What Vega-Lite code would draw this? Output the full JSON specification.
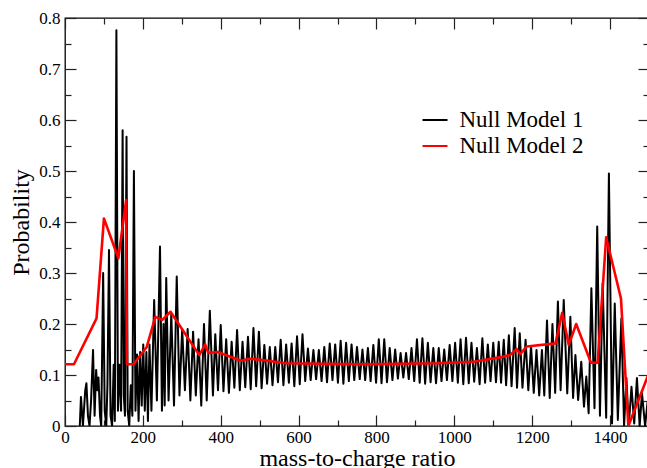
{
"$schema":"https://vega.github.io/schema/vega-lite/v6.json",
"width":584,"height":408,
"autosize":{"type":"none"},
"padding":{"left":65,"top":18,"right":0,"bottom":42},
"background":"white",
"config":{"view":{"stroke":"black","strokeWidth":1.3},"font":"Liberation Serif"},
"datasets":{
"nm1":[{"mz":38,"prob":0},{"mz":41,"prob":0.057},{"mz":46,"prob":0},{"mz":52,"prob":0.07},{"mz":55,"prob":0.084},{"mz":59,"prob":0.02},{"mz":63,"prob":0},{"mz":67,"prob":0.05},{"mz":72,"prob":0.149},{"mz":76,"prob":0.02},{"mz":80,"prob":0.11},{"mz":83,"prob":0.07},{"mz":86,"prob":0.095},{"mz":90,"prob":0.02},{"mz":93,"prob":0},{"mz":98,"prob":0.30},{"mz":102,"prob":0.03},{"mz":106,"prob":0},{"mz":109,"prob":0.08},{"mz":113,"prob":0.345},{"mz":117,"prob":0.02},{"mz":121,"prob":0},{"mz":125,"prob":0.12},{"mz":128,"prob":0.01},{"mz":132,"prob":0.776},{"mz":136,"prob":0.03},{"mz":140,"prob":0.12},{"mz":144,"prob":0.03},{"mz":148,"prob":0.58},{"mz":151,"prob":0.06},{"mz":154,"prob":0.02},{"mz":158,"prob":0.567},{"mz":161,"prob":0.03},{"mz":165,"prob":0},{"mz":169,"prob":0.08},{"mz":173,"prob":0.02},{"mz":177,"prob":0.50},{"mz":181,"prob":0.03},{"mz":185,"prob":0.14},{"mz":189,"prob":0.01},{"mz":193,"prob":0.145},{"mz":197,"prob":0.04},{"mz":201,"prob":0.16},{"mz":205,"prob":0.03},{"mz":209,"prob":0.145},{"mz":213,"prob":0.01},{"mz":217,"prob":0.16},{"mz":222,"prob":0.03},{"mz":229,"prob":0.247},{"mz":236,"prob":0.05},{"mz":244,"prob":0.352},{"mz":249,"prob":0.03},{"mz":253,"prob":0.2},{"mz":256,"prob":0.04},{"mz":260,"prob":0.29},{"mz":266,"prob":0.05},{"mz":273,"prob":0.22},{"mz":280,"prob":0.04},{"mz":287,"prob":0.293},{"mz":294,"prob":0.06},{"mz":301,"prob":0.19},{"mz":308,"prob":0.07},{"mz":315,"prob":0.19},{"mz":322,"prob":0.05},{"mz":329,"prob":0.185},{"mz":336,"prob":0.06},{"mz":343,"prob":0.17},{"mz":350,"prob":0.04},{"mz":357,"prob":0.2},{"mz":364,"prob":0.05},{"mz":372,"prob":0.226},{"mz":380,"prob":0.06},{"mz":386,"prob":0.18},{"mz":393,"prob":0.07},
{"mz":400,"prob":0.198},{"mz":407,"prob":0.068},{"mz":414,"prob":0.17},{"mz":421,"prob":0.065},{"mz":428,"prob":0.165},{"mz":435,"prob":0.075},{"mz":442,"prob":0.188},{"mz":449,"prob":0.07},{"mz":456,"prob":0.165},{"mz":463,"prob":0.076},{"mz":470,"prob":0.175},{"mz":477,"prob":0.072},{"mz":484,"prob":0.192},{"mz":491,"prob":0.078},{"mz":498,"prob":0.185},{"mz":505,"prob":0.074},{"mz":512,"prob":0.159},{"mz":519,"prob":0.083},{"mz":526,"prob":0.155},{"mz":533,"prob":0.08},{"mz":540,"prob":0.155},{"mz":547,"prob":0.086},{"mz":554,"prob":0.169},{"mz":561,"prob":0.08},{"mz":568,"prob":0.16},{"mz":575,"prob":0.085},{"mz":582,"prob":0.162},{"mz":589,"prob":0.078},{"mz":596,"prob":0.176},{"mz":603,"prob":0.082},{"mz":610,"prob":0.18},{"mz":617,"prob":0.088},{"mz":624,"prob":0.152},{"mz":631,"prob":0.09},{"mz":638,"prob":0.149},{"mz":645,"prob":0.092},{"mz":652,"prob":0.149},{"mz":659,"prob":0.088},{"mz":666,"prob":0.155},{"mz":673,"prob":0.086},{"mz":680,"prob":0.162},{"mz":687,"prob":0.09},{"mz":694,"prob":0.16},{"mz":701,"prob":0.085},{"mz":708,"prob":0.167},{"mz":715,"prob":0.083},{"mz":722,"prob":0.163},{"mz":729,"prob":0.088},{"mz":736,"prob":0.16},{"mz":743,"prob":0.09},{"mz":750,"prob":0.155},{"mz":757,"prob":0.092},{"mz":764,"prob":0.15},{"mz":771,"prob":0.09},{"mz":778,"prob":0.153},{"mz":785,"prob":0.088},{"mz":792,"prob":0.159},{"mz":799,"prob":0.085},{"mz":806,"prob":0.17},{"mz":813,"prob":0.084},{"mz":820,"prob":0.17},{"mz":827,"prob":0.086},{"mz":834,"prob":0.153},{"mz":841,"prob":0.09},{"mz":848,"prob":0.15},{"mz":855,"prob":0.093},{"mz":862,"prob":0.143},{"mz":869,"prob":0.095},{"mz":876,"prob":0.143},{"mz":883,"prob":0.092},{"mz":890,"prob":0.153},{"mz":897,"prob":0.088},{"mz":904,"prob":0.17},{"mz":911,"prob":0.085},{"mz":918,"prob":0.172},{"mz":925,"prob":0.083},{"mz":932,"prob":0.163},{"mz":939,"prob":0.086},{"mz":946,"prob":0.153},{"mz":953,"prob":0.084},{"mz":960,"prob":0.153},{"mz":967,"prob":0.088},{"mz":974,"prob":0.15},{"mz":981,"prob":0.09},{"mz":988,"prob":0.159},{"mz":995,"prob":0.088},{"mz":1002,"prob":0.163},{"mz":1009,"prob":0.085},{"mz":1016,"prob":0.17},{"mz":1023,"prob":0.082},{"mz":1030,"prob":0.173},{"mz":1037,"prob":0.084},{"mz":1044,"prob":0.163},{"mz":1051,"prob":0.087},{"mz":1058,"prob":0.153},{"mz":1065,"prob":0.082},{"mz":1072,"prob":0.172},{"mz":1079,"prob":0.085},{"mz":1086,"prob":0.16},{"mz":1093,"prob":0.088},{"mz":1100,"prob":0.163},{"mz":1107,"prob":0.086},{"mz":1114,"prob":0.165},{"mz":1120,"prob":0.085},
{"mz":1127,"prob":0.169},{"mz":1133,"prob":0.08},{"mz":1140,"prob":0.178},{"mz":1147,"prob":0.078},{"mz":1155,"prob":0.192},{"mz":1161,"prob":0.075},{"mz":1168,"prob":0.182},{"mz":1175,"prob":0.075},{"mz":1183,"prob":0.169},{"mz":1190,"prob":0.07},{"mz":1197,"prob":0.157},{"mz":1204,"prob":0.065},{"mz":1211,"prob":0.149},{"mz":1218,"prob":0.06},{"mz":1225,"prob":0.149},{"mz":1231,"prob":0.06},{"mz":1238,"prob":0.207},{"mz":1245,"prob":0.055},{"mz":1252,"prob":0.2},{"mz":1259,"prob":0.065},{"mz":1266,"prob":0.244},{"mz":1273,"prob":0.07},{"mz":1281,"prob":0.247},{"mz":1290,"prob":0.064},{"mz":1298,"prob":0.214},{"mz":1305,"prob":0.055},{"mz":1311,"prob":0.139},{"mz":1318,"prob":0.051},{"mz":1326,"prob":0.126},{"mz":1333,"prob":0.038},{"mz":1339,"prob":0.097},{"mz":1345,"prob":0.025},{"mz":1352,"prob":0.27},{"mz":1360,"prob":0.035},{"mz":1367,"prob":0.391},{"mz":1374,"prob":0.02},{"mz":1381,"prob":0.28},{"mz":1390,"prob":0.016},{"mz":1397,"prob":0.495},{"mz":1405,"prob":0.005},{"mz":1412,"prob":0.24},{"mz":1420,"prob":0.012},{"mz":1429,"prob":0.211},{"mz":1436,"prob":0},{"mz":1442,"prob":0.094},{"mz":1448,"prob":0},{"mz":1455,"prob":0.077},{"mz":1462,"prob":0.005},{"mz":1469,"prob":0.094},{"mz":1476,"prob":0},{"mz":1482,"prob":0.064},{"mz":1490,"prob":0},{"mz":1496,"prob":0.045},{"mz":1500,"prob":0.02}],
"nm2":[{"mz":0,"prob":0.121},{"mz":23,"prob":0.121},{"mz":81,"prob":0.211},{"mz":100,"prob":0.407},{"mz":137,"prob":0.329},{"mz":157,"prob":0.443},{"mz":159,"prob":0.121},{"mz":176,"prob":0.121},{"mz":210,"prob":0.155},{"mz":232,"prob":0.214},{"mz":250,"prob":0.208},{"mz":271,"prob":0.224},{"mz":345,"prob":0.139},{"mz":360,"prob":0.16},{"mz":368,"prob":0.143},{"mz":392,"prob":0.145},{"mz":452,"prob":0.128},{"mz":475,"prob":0.132},{"mz":570,"prob":0.123},{"mz":760,"prob":0.121},{"mz":955,"prob":0.123},{"mz":1050,"prob":0.126},{"mz":1120,"prob":0.135},{"mz":1143,"prob":0.139},{"mz":1160,"prob":0.151},{"mz":1169,"prob":0.141},{"mz":1186,"prob":0.156},{"mz":1260,"prob":0.162},{"mz":1277,"prob":0.222},{"mz":1294,"prob":0.159},{"mz":1313,"prob":0.2},{"mz":1351,"prob":0.124},{"mz":1368,"prob":0.124},{"mz":1390,"prob":0.37},{"mz":1428,"prob":0.25},{"mz":1447,"prob":0},{"mz":1500,"prob":0.104}]
},
"layer":[
{"data":{"name":"nm1"},
 "mark":{"type":"line","clip":true,"strokeWidth":2,"strokeJoin":"round"},
 "encoding":{
  "x":{"field":"mz","type":"quantitative","scale":{"domain":[0,1500],"nice":false,"zero":false},
   "axis":{"orient":"bottom","values":[0,200,400,600,800,1000,1200,1400],"ticks":false,"domain":false,"grid":false,"format":"d","labelFont":"Liberation Serif","labelFontSize":17,"labelColor":"black","labelPadding":3,"labelFlush":false,"labelOverlap":false,"title":"mass-to-charge ratio","titleFont":"Liberation Serif","titleFontSize":24,"titleFontWeight":"normal","titleColor":"black","titleY":39,"titleBaseline":"alphabetic"}},
  "y":{"field":"prob","type":"quantitative","scale":{"domain":[0,0.8],"nice":false},
   "axis":{"orient":"left","values":[0,0.1,0.2,0.3,0.4,0.5,0.6,0.7,0.8],"ticks":false,"domain":false,"grid":false,"labelExpr":"datum.value === 0 ? '0' : format(datum.value, '.1f')","labelFont":"Liberation Serif","labelFontSize":17,"labelColor":"black","labelPadding":5,"labelOverlap":false,"labelFlush":false,"title":"Probability","titleFont":"Liberation Serif","titleFontSize":24,"titleFontWeight":"normal","titleColor":"black","titleX":-37,"titleY":204,"titleAngle":-90,"titleAlign":"center","titleBaseline":"alphabetic"}},
  "color":{"datum":"Null Model 1","type":"nominal","scale":{"domain":["Null Model 1","Null Model 2"],"range":["black","#ff0000"]},
   "legend":{"orient":"none","legendX":356.5,"legendY":88.5,"title":null,"symbolType":"stroke","symbolSize":625,"symbolStrokeWidth":2,"labelFont":"Liberation Serif","labelFontSize":23,"labelColor":"black","labelOffset":11,"rowPadding":-2,"padding":0,"labelLimit":300}}
 }},
{"data":{"name":"nm2"},
 "mark":{"type":"line","clip":true,"strokeWidth":2.6,"strokeJoin":"round"},
 "encoding":{
  "x":{"field":"mz","type":"quantitative",
   "axis":{"orient":"bottom","values":[0,100,200,300,400,500,600,700,800,900,1000,1100,1200,1300,1400,1500],"labels":false,"domain":false,"grid":false,"title":null,"tickColor":"#222","tickWidth":1.2,"tickSize":{"condition":{"test":"datum.value % 200 === 0","value":-11},"value":-6}}},
  "y":{"field":"prob","type":"quantitative",
   "axis":{"orient":"left","values":[0,0.05,0.1,0.15,0.2,0.25,0.3,0.35,0.4,0.45,0.5,0.55,0.6,0.65,0.7,0.75,0.8],"labels":false,"domain":false,"grid":false,"title":null,"tickColor":"#222","tickWidth":1.2,"tickSize":{"condition":{"test":"round(datum.value*20) % 2 === 0","value":-11},"value":-6}}},
  "color":{"datum":"Null Model 2","type":"nominal"}
 }},
{"data":{"name":"nm2"},
 "mark":{"type":"line","opacity":0},
 "encoding":{
  "x":{"field":"mz","type":"quantitative",
   "axis":{"orient":"top","values":[0,100,200,300,400,500,600,700,800,900,1000,1100,1200,1300,1400,1500],"labels":false,"domain":false,"grid":false,"title":null,"tickColor":"#222","tickWidth":1.2,"tickSize":{"condition":{"test":"datum.value % 200 === 0","value":-11},"value":-6}}},
  "y":{"field":"prob","type":"quantitative",
   "axis":{"orient":"right","values":[0,0.05,0.1,0.15,0.2,0.25,0.3,0.35,0.4,0.45,0.5,0.55,0.6,0.65,0.7,0.75,0.8],"labels":false,"domain":false,"grid":false,"title":null,"tickColor":"#222","tickWidth":1.2,"tickSize":{"condition":{"test":"round(datum.value*20) % 2 === 0","value":-11},"value":-6}}}
 }}
],
"resolve":{"axis":{"x":"independent","y":"independent"}}
}
